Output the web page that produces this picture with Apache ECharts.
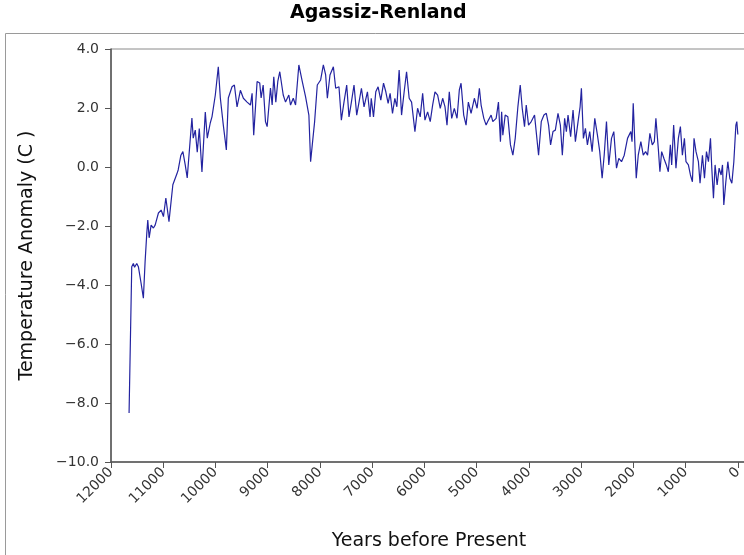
<!DOCTYPE html>
<html>
<head>
<meta charset="utf-8">
<title>Agassiz-Renland</title>
<script src="https://cdn.jsdelivr.net/npm/echarts@6/dist/echarts.min.js"></script>
<style>
  html, body { margin: 0; padding: 0; background: #fff; }
  #main { width: 744px; height: 555px; }
</style>
</head>
<body>
<div id="main"></div>
<script>
// years before present
var years = [11654, 11603, 11572, 11549, 11507, 11476, 11424, 11380, 11347, 11315,
  11296, 11270, 11232, 11188, 11155, 11092, 11040, 10996, 10950, 10890,
  10816, 10740, 10714, 10662, 10624, 10579, 10541, 10451, 10426, 10387,
  10349, 10310, 10259, 10195, 10157, 10099, 10067, 10003, 9946, 9907,
  9850, 9792, 9754, 9683, 9638, 9587, 9523, 9466, 9395, 9331,
  9299, 9268, 9203, 9153, 9126, 9087, 9043, 9011, 8947, 8915,
  8884, 8845, 8807, 8769, 8703, 8659, 8596, 8563, 8511, 8467,
  8404, 8339, 8275, 8212, 8179, 8147, 8102, 8051, 7987, 7935,
  7891, 7858, 7808, 7743, 7699, 7636, 7590, 7540, 7488, 7444,
  7398, 7348, 7296, 7252, 7206, 7156, 7091, 7041, 7018, 6975,
  6931, 6887, 6835, 6783, 6739, 6695, 6657, 6611, 6566, 6528,
  6484, 6438, 6388, 6342, 6292, 6246, 6182, 6131, 6081, 6034,
  5990, 5939, 5889, 5843, 5798, 5747, 5697, 5651, 5606, 5568,
  5524, 5478, 5428, 5376, 5332, 5299, 5248, 5203, 5159, 5107,
  5044, 4992, 4948, 4915, 4863, 4819, 4775, 4723, 4691, 4627,
  4583, 4545, 4522, 4499, 4454, 4403, 4353, 4307, 4262, 4211,
  4166, 4128, 4084, 4051, 4007, 3955, 3892, 3815, 3763, 3712,
  3667, 3623, 3585, 3539, 3494, 3443, 3398, 3360, 3316, 3283,
  3251, 3201, 3155, 3110, 3059, 3020, 2995, 2957, 2918, 2880,
  2836, 2790, 2739, 2688, 2644, 2598, 2559, 2515, 2471, 2419,
  2375, 2323, 2279, 2227, 2175, 2112, 2049, 2026, 2003, 1945,
  1907, 1857, 1811, 1766, 1728, 1684, 1638, 1599, 1569, 1523,
  1492, 1459, 1415, 1369, 1331, 1292, 1267, 1229, 1185, 1139,
  1100, 1062, 1023, 993, 947, 908, 870, 839, 801, 755,
  724, 678, 639, 601, 563, 524, 499, 467, 436, 397,
  359, 321, 294, 269, 230, 192, 154, 115, 77, 38,
  20, 0];

// temperature anomaly (C)
var temps = [-8.34, -3.38, -3.27, -3.40, -3.27, -3.38, -3.94, -4.45, -3.20, -2.25,
  -1.80, -2.40, -1.97, -2.07, -1.97, -1.56, -1.46, -1.68, -1.05, -1.85,
  -0.60, -0.24, -0.10, 0.40, 0.52, 0.07, -0.37, 1.66, 0.98, 1.25,
  0.50, 1.30, -0.17, 1.86, 0.98, 1.50, 1.70, 2.44, 3.40, 2.34,
  1.42, 0.58, 2.34, 2.72, 2.78, 2.04, 2.60, 2.33, 2.20, 2.10,
  2.50, 1.08, 2.90, 2.85, 2.34, 2.78, 1.54, 1.37, 2.68, 2.10,
  3.06, 2.20, 2.90, 3.23, 2.44, 2.20, 2.44, 2.10, 2.33, 2.10,
  3.46, 2.90, 2.38, 1.76, 0.18, 0.75, 1.54, 2.78, 2.95, 3.46,
  3.12, 2.33, 3.12, 3.40, 2.67, 2.72, 1.59, 2.20, 2.78, 1.70,
  2.20, 2.78, 1.76, 2.20, 2.67, 2.04, 2.55, 1.70, 2.33, 1.70,
  2.55, 2.72, 2.27, 2.84, 2.55, 2.16, 2.50, 1.82, 2.33, 2.04,
  3.29, 1.76, 2.55, 3.23, 2.33, 2.20, 1.20, 1.99, 1.70, 2.50,
  1.59, 1.87, 1.54, 2.10, 2.55, 2.44, 1.99, 2.33, 2.04, 1.42,
  2.55, 1.65, 1.99, 1.65, 2.61, 2.84, 1.76, 1.42, 2.20, 1.82,
  2.33, 1.99, 2.67, 2.10, 1.65, 1.42, 1.59, 1.76, 1.54, 1.65,
  2.20, 0.86, 1.87, 1.08, 1.76, 1.70, 0.75, 0.40, 0.97, 2.04,
  2.78, 1.99, 1.37, 2.10, 1.42, 1.54, 1.76, 0.40, 1.54, 1.76,
  1.82, 1.42, 0.75, 1.20, 1.25, 1.82, 1.42, 0.40, 1.65, 1.20,
  1.76, 1.03, 1.93, 0.86, 1.54, 2.04, 2.67, 0.97, 1.31, 0.75,
  1.20, 0.52, 1.65, 1.08, 0.52, -0.38, 0.40, 1.54, 0.07, 0.97,
  1.20, -0.04, 0.29, 0.18, 0.40, 0.97, 1.20, 0.86, 2.16, -0.38,
  0.40, 0.86, 0.40, 0.52, 0.40, 1.14, 0.75, 0.86, 1.65, 0.63,
  -0.16, 0.52, 0.29, 0.07, -0.16, 0.75, 0.07, 1.42, -0.04, 0.97,
  1.37, 0.40, 0.97, 0.18, 0.07, -0.27, -0.50, 0.97, 0.52, 0.18,
  -0.55, 0.40, -0.38, 0.52, 0.18, 0.97, -0.04, -1.06, 0.07, -0.61,
  -0.04, -0.27, 0.07, -1.29, -0.50, 0.18, -0.38, -0.55, 0.18, 1.42,
  1.54, 1.10];

// axis ticks
var xTicks = [0, 1000, 2000, 3000, 4000, 5000, 6000, 7000, 8000, 9000, 10000, 11000, 12000];

var seriesData = [];
for (var i = 0; i < years.length; i++) {
  seriesData.push([years[i], temps[i]]);
}

var myChart = echarts.init(document.getElementById('main'));
var FONT = 'DejaVu Sans';

var option = {
  backgroundColor: '#fff',
  animation: false,
  textStyle: { fontFamily: FONT },
  title: {
    text: 'Agassiz-Renland',
    left: 290,
    top: 4,
    padding: 0,
    textStyle: { fontFamily: FONT, fontSize: 19, fontWeight: 'bold', color: '#000' }
  },
  // outer panel border below the title
  graphic: [{
    type: 'rect',
    silent: true,
    shape: { x: 5.5, y: 33.5, width: 800, height: 600 },
    style: { fill: null, stroke: '#9a9a9a', lineWidth: 1 }
  }],
  grid: {
    left: 111,
    top: 49,
    right: -3,
    bottom: 93,
    outerBoundsMode: 'none',
    containLabel: false,
    show: true,
    borderColor: '#8a8a8a',
    borderWidth: 1
  },
  xAxis: {
    type: 'value',
    inverse: true,
    min: -175,
    max: 12000,
    name: 'Years before Present',
    nameLocation: 'middle',
    nameGap: 70,
    nameTextStyle: { fontFamily: FONT, fontSize: 19, color: '#111' },
    splitLine: { show: false },
    axisLine: { show: true, onZero: false, lineStyle: { color: '#555', width: 1.5 } },
    axisTick: { show: true, length: 6, lineStyle: { color: '#555' }, customValues: xTicks },
    axisLabel: {
      rotate: 45,
      fontSize: 14,
      color: '#333',
      margin: 8,
      customValues: xTicks,
      formatter: function (v) { return String(v); }
    }
  },
  yAxis: {
    type: 'value',
    min: -10,
    max: 4,
    interval: 2,
    name: 'Temperature Anomaly (C )',
    nameLocation: 'middle',
    nameGap: 74,
    nameTextStyle: { fontFamily: FONT, fontSize: 19, color: '#111' },
    splitLine: { show: false },
    axisLine: { show: true, onZero: false, lineStyle: { color: '#555', width: 1.5 } },
    axisTick: { show: true, length: 6, lineStyle: { color: '#555' } },
    axisLabel: {
      fontSize: 14,
      color: '#333',
      margin: 12,
      formatter: function (v) {
        return v.toFixed(1).replace('-', '\u2212');
      }
    }
  },
  series: [{
    type: 'line',
    data: seriesData,
    symbol: 'none',
    lineStyle: { color: '#2323a0', width: 1.2 }
  }]
};

myChart.setOption(option);
</script>
</body>
</html>
